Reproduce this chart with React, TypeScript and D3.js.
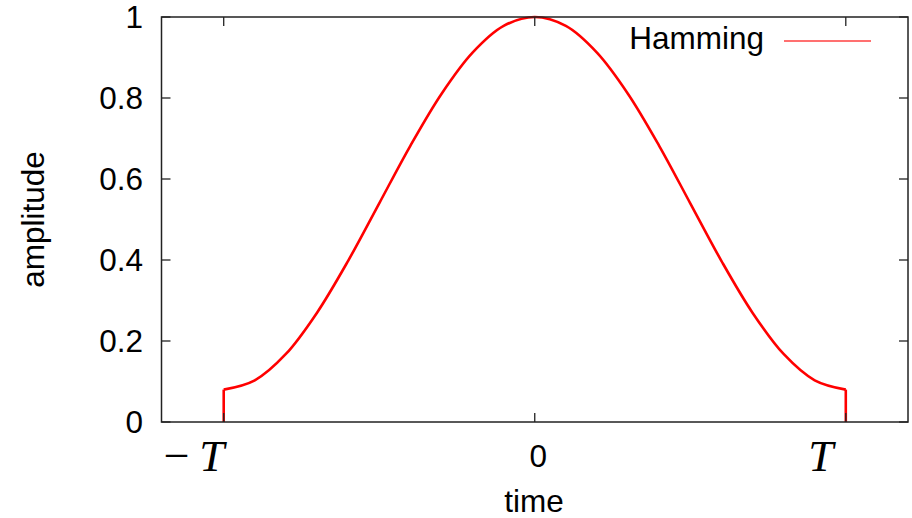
import React from "react";
import * as d3 from "d3";

// Window samples: time in units of T, amplitude of the window
const sampleTimes = [-1, -0.9, -0.8, -0.7, -0.6, -0.5, -0.4, -0.3, -0.2, -0.1, 0, 0.1, 0.2, 0.3, 0.4, 0.5, 0.6, 0.7, 0.8, 0.9, 1];
const amplitudes = [0.08, 0.103, 0.168, 0.27, 0.398, 0.54, 0.682, 0.81, 0.912, 0.978, 1, 0.978, 0.912, 0.81, 0.682, 0.54, 0.398, 0.27, 0.168, 0.103, 0.08];

const seriesName = "Hamming";
const xTicks = [-1, 0, 1];
const yTicks = [0, 0.2, 0.4, 0.6, 0.8, 1];
const yTickLabels = ["0", "0.2", "0.4", "0.6", "0.8", "1"];

const W = 912;
const H = 518;
const left = 161.5;
const right = 908;
const top = 17;
const bottom = 422;

const sans = "'Liberation Sans', Arial, Helvetica, sans-serif";
const serif = "'Liberation Serif', 'Times New Roman', serif";
const fs = 31.5;

export default function App() {
  const x = d3.scaleLinear().domain([-1.2, 1.2]).range([left, right]);
  const y = d3.scaleLinear().domain([0, 1]).range([bottom, top]);

  const pts: [number, number][] = sampleTimes.map((t, i) => [t, amplitudes[i]]);
  const curve = d3
    .line<[number, number]>()
    .x((d) => x(d[0]))
    .y((d) => y(d[1]))
    .curve(d3.curveCatmullRom.alpha(0.5))(pts) as string;

  // vertical edges of the window at -T and T
  const first = pts[0];
  const last = pts[pts.length - 1];
  const edge = d3.line<[number, number]>().x((d) => x(d[0])).y((d) => y(d[1]));
  const leftEdge = edge([[first[0], 0], first]) as string;
  const rightEdge = edge([last, [last[0], 0]]) as string;

  const tickLen = 9;
  const frame = "#222";

  return (
    <svg width={W} height={H} style={{ position: "absolute", left: 0, top: 0, background: "#fff" }}>
      {/* curve */}
      <path d={curve} fill="none" stroke="#ff0000" strokeWidth={2.6} strokeLinejoin="round" />
      <path d={leftEdge} fill="none" stroke="#ff0000" strokeWidth={2.6} />
      <path d={rightEdge} fill="none" stroke="#ff0000" strokeWidth={2.6} />

      {/* y ticks (with mirror on the right) */}
      {yTicks.map((v, i) => (
        <g key={"y" + i}>
          <line x1={left} x2={left + tickLen} y1={y(v)} y2={y(v)} stroke={frame} strokeWidth={1.3} />
          <line x1={right} x2={right - tickLen} y1={y(v)} y2={y(v)} stroke={frame} strokeWidth={1.3} />
          <text
            x={143}
            y={y(v)}
            dy="0.36em"
            textAnchor="end"
            fontFamily={sans}
            fontSize={fs}
            fill="#000"
          >
            {yTickLabels[i]}
          </text>
        </g>
      ))}

      {/* x ticks (with mirror on the top) */}
      {xTicks.map((v, i) => (
        <g key={"x" + i}>
          <line x1={x(v)} x2={x(v)} y1={bottom} y2={bottom - tickLen} stroke={frame} strokeWidth={1.3} />
          <line x1={x(v)} x2={x(v)} y1={top} y2={top + tickLen} stroke={frame} strokeWidth={1.3} />
        </g>
      ))}

      {/* x tick labels */}
      <text x={x(-1) - 60} y={471} fontFamily={serif} fontSize={46} fill="#000">
        −
      </text>
      <text x={x(-1) - 12} y={471} textAnchor="middle" fontFamily={serif} fontStyle="italic" fontSize={45} fill="#000">
        T
      </text>
      <text x={x(0) + 3.5} y={467} textAnchor="middle" fontFamily={sans} fontSize={fs} fill="#000">
        0
      </text>
      <text x={x(1) - 25} y={471} textAnchor="middle" fontFamily={serif} fontStyle="italic" fontSize={45} fill="#000">
        T
      </text>

      {/* frame */}
      <rect x={left} y={top} width={right - left} height={bottom - top} fill="none" stroke={frame} strokeWidth={1.5} />

      {/* axis titles */}
      <text x={534} y={512} textAnchor="middle" fontFamily={sans} fontSize={fs} fill="#000">
        time
      </text>
      <text
        transform={`translate(44, ${(top + bottom) / 2}) rotate(-90)`}
        textAnchor="middle"
        fontFamily={sans}
        fontSize={fs}
        fill="#000"
      >
        amplitude
      </text>

      {/* legend */}
      <text x={764} y={49} textAnchor="end" fontFamily={sans} fontSize={fs} fill="#000">
        {seriesName}
      </text>
      <line x1={784} x2={871} y1={41} y2={41} stroke="#ff0000" strokeWidth={1.4} strokeOpacity={0.75} />
    </svg>
  );
}
